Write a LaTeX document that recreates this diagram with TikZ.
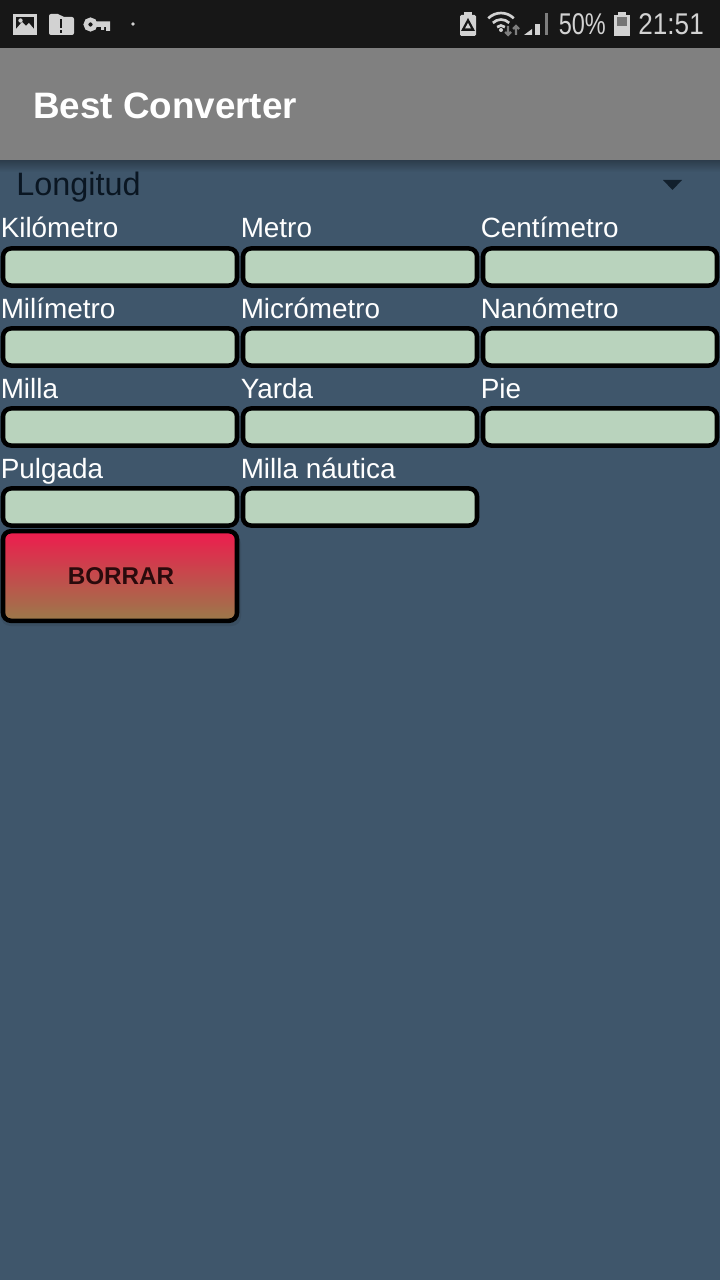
\documentclass[tikz,border=0pt]{standalone}
\usepackage{fontspec}
\setmainfont{Liberation Sans}
\usetikzlibrary{positioning}
\definecolor{screenbg}{HTML}{3F566B}
\definecolor{barbg}{HTML}{171717}
\definecolor{headbg}{HTML}{808080}
\definecolor{fieldbg}{HTML}{B9D3BD}
\definecolor{icongray}{HTML}{D2D2D2}
\definecolor{darktext}{HTML}{0A1622}
\definecolor{btntop}{HTML}{EE1C4E}
\definecolor{btnbottom}{HTML}{9A7A4A}
\definecolor{btntext}{HTML}{2A0A0C}
\tikzset{
	fieldbox/.style={draw=black,line width=3.4pt,fill=fieldbg,rounded corners=6pt,minimum width=175.5pt,minimum height=27.8pt,inner sep=0pt},
	fieldlabel/.style={anchor=base west,inner sep=0pt,text=white,font=\fontsize{20.9}{24}\selectfont},
	clearbutton/.style={draw=black,line width=3.4pt,top color=btntop,bottom color=btnbottom,rounded corners=6pt,minimum width=175.5pt,minimum height=67.2pt,inner sep=0pt,text=btntext,font=\fontsize{18.2}{22}\selectfont\bfseries},
	statustext/.style={anchor=base east,inner sep=0pt,text=icongray,xscale=.87,font=\fontsize{22.5}{26}\selectfont},
	icon/.style={fill=icongray,draw=none},
	px/.style={x=.75pt,y=-.75pt}
}
\begin{document}
\begin{tikzpicture}[px]
	\useasboundingbox (0,0) rectangle (720,1280);
	
	% screen
	\fill[screenbg] (0,0) rectangle (720,1280);
	\shade[top color=screenbg!70!black,bottom color=screenbg] (0,160) rectangle (720,172);
	\fill[headbg] (0,48) rectangle (720,160);
	\fill[barbg] (0,0) rectangle (720,48);
	
	% left status icons
	\fill[icon] (13,14) rectangle (37,35);
	\fill[barbg] (16,17) rectangle (34,32);
	\fill[icon] (16,32) -- (16,29) -- (22,22) -- (26,26) -- (29,23) -- (34,29) -- (34,32) -- cycle;
	\fill[icon] (20.5,20.5) circle (2.2);
	\fill[icon,rounded corners=1.5pt] (49,14) -- (60,14) -- (62,17) -- (74,17) -- (74,35) -- (49,35) -- cycle;
	\fill[barbg] (59.5,19) rectangle (62,28);
	\fill[barbg] (59.5,30) rectangle (62,33);
	\draw[icongray,line width=3.4pt] (90.5,24.5) circle (4.7);
	\fill[icon] (96,21.5) -- (110,21.5) -- (110,31) -- (106,31) -- (106,27) -- (104,27) -- (104,30) -- (101,30) -- (101,27) -- (96,27) -- cycle;
	\fill[icon] (133,24) circle (1.8);
	
	% right status icons
	\fill[icon] (464,12) rectangle (472,16);
	\fill[icon,rounded corners=1pt] (460,15) rectangle (476,36);
	\fill[barbg] (468,18) -- (475,31) -- (461,31) -- cycle;
	\fill[icon] (468,23) -- (471,28.5) -- (465,28.5) -- cycle;
	\draw[icongray,line width=2pt] (488.3,18.3) arc[start angle=225,end angle=315,radius=18];
	\draw[icongray,line width=2pt] (492.9,22.9) arc[start angle=225,end angle=315,radius=11.5];
	\draw[icongray,line width=2pt] (497.1,27.1) arc[start angle=225,end angle=315,radius=5.5];
	\fill[icon] (501,30) circle (2);
	\draw[icongray!55!barbg,line width=1.6pt] (508,26) -- (508,35) (505,32) -- (508,35) -- (511,32);
	\draw[icongray!55!barbg,line width=1.6pt] (516,35) -- (516,26) (513,29) -- (516,26) -- (519,29);
	\fill[icon] (524,35) -- (532,29) -- (532,35) -- cycle;
	\fill[icon] (535,24) rectangle (540,35);
	\fill[icongray!55!barbg] (545,13) rectangle (548,35);
	\node(percent) at (606,35)[statustext,xscale=.9]{50\%};
	\fill[icon] (618,12) rectangle (626,16);
	\fill[icon] (614,15) rectangle (630,36);
	\fill[icongray!50!barbg] (617,17) rectangle (627,26);
	\node(clock) at (704,35)[statustext]{21:51};
	
	% header and spinner
	\node(title) at (33,119)[anchor=base west,inner sep=0pt,text=white,font=\fontsize{27.6}{32}\selectfont\bfseries]{Best Converter};
	\node(spinner) at (16,195.5)[anchor=base west,inner sep=0pt,text=darktext,font=\fontsize{24.3}{28}\selectfont]{Longitud};
	\fill[darktext!85!screenbg] (663,180) -- (682,180) -- (672.5,190) -- cycle;
	
	% first row
	\node(kilometro) at (.5,238)[fieldlabel]{Kilómetro};
	\node(metro) at (240.5,238)[fieldlabel]{Metro};
	\node(centimetro) at (480.5,238)[fieldlabel]{Centímetro};
	\node(kilometrobox) at (120,267)[fieldbox]{};
	\node(metrobox) at (360,267)[fieldbox]{};
	\node(centimetrobox) at (600,267)[fieldbox]{};
	
	% second row
	\node(milimetro) at (.5,318)[fieldlabel]{Milímetro};
	\node(micrometro) at (240.5,318)[fieldlabel]{Micrómetro};
	\node(nanometro) at (480.5,318)[fieldlabel]{Nanómetro};
	\node(milimetrobox) at (120,347)[fieldbox]{};
	\node(micrometrobox) at (360,347)[fieldbox]{};
	\node(nanometrobox) at (600,347)[fieldbox]{};
	
	% third row
	\node(milla) at (.5,398)[fieldlabel]{Milla};
	\node(yarda) at (240.5,398)[fieldlabel]{Yarda};
	\node(pie) at (480.5,398)[fieldlabel]{Pie};
	\node(millabox) at (120,427)[fieldbox]{};
	\node(yardabox) at (360,427)[fieldbox]{};
	\node(piebox) at (600,427)[fieldbox]{};
	
	% fourth row
	\node(pulgada) at (.5,478)[fieldlabel]{Pulgada};
	\node(nautica) at (240.5,478)[fieldlabel]{Milla náutica};
	\node(pulgadabox) at (120,507)[fieldbox]{};
	\node(nauticabox) at (360,507)[fieldbox]{};
	
	\fill[black,opacity=.08,rounded corners=7pt] (1,534) rectangle (241,626);
	\node(borrar) at (120,576)[clearbutton]{\hspace{1.5pt}\raisebox{-1.8pt}{BORRAR}};
	
\end{tikzpicture}
\end{document}
